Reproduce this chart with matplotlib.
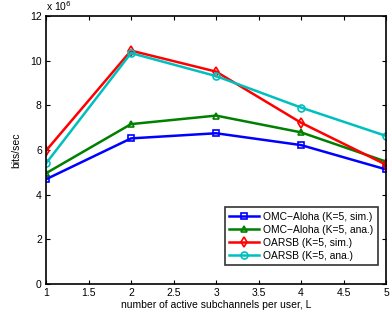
import matplotlib
matplotlib.use("Agg")
import matplotlib.pyplot as plt

plt.rcParams['font.family'] = ['Liberation Sans', 'DejaVu Sans']

L = [1, 2, 3, 4, 5]
omc_sim = [4.69, 6.52, 6.75, 6.22, 5.13]
omc_ana = [4.96, 7.16, 7.54, 6.79, 5.48]
oarsb_sim = [5.97, 10.45, 9.51, 7.22, 5.34]
oarsb_ana = [5.40, 10.34, 9.31, 7.90, 6.63]
labels = ['OMC\u2212Aloha (K=5, sim.)', 'OMC\u2212Aloha (K=5, ana.)',
          'OARSB (K=5, sim.)', 'OARSB (K=5, ana.)']
scale = 1e6

fig = plt.figure(figsize=(3.9, 3.2), dpi=100)
ax = fig.add_axes([0.118, 0.1125, 0.872, 0.8375])

series = [omc_sim, omc_ana, oarsb_sim, oarsb_ana]
colors = ['#0000ff', '#008000', '#ff0000', '#00bfbf']
markers = ['s', '^', 'd', 'o']
for s, c, m, lab in zip(series, colors, markers, labels):
    ax.plot(L, [v * scale for v in s], color=c, marker=m, markersize=5,
            markerfacecolor='none', markeredgecolor=c, markeredgewidth=1.2,
            linewidth=1.8, label=lab)

ax.set_xlim(1, 5)
ax.set_ylim(0, 12e6)
ax.set_xticks([1, 1.5, 2, 2.5, 3, 3.5, 4, 4.5, 5])
ax.set_xticklabels(['1', '1.5', '2', '2.5', '3', '3.5', '4', '4.5', '5'])
ax.set_yticks([0, 2e6, 4e6, 6e6, 8e6, 10e6, 12e6])
ax.set_yticklabels(['0', '2', '4', '6', '8', '10', '12'])
ax.tick_params(direction='in', top=True, right=True, labelsize=7.5, length=3, width=0.8, pad=3)
for sp in ax.spines.values():
    sp.set_linewidth(1.2)
ax.set_xlabel('number of active subchannels per user, L', fontsize=7.5, labelpad=1)
ax.set_ylabel('bits/sec', fontsize=7.5, labelpad=6)
ax.text(0.0, 1.012, 'x 10$^6$', transform=ax.transAxes, fontsize=7.5, va='bottom', ha='left')

leg = ax.legend(loc='lower right', fontsize=7.4, frameon=True, fancybox=False,
                edgecolor='black', borderpad=0.45, labelspacing=0.3, handlelength=2.9,
                handletextpad=0.4, bbox_to_anchor=(0.992, 0.05))
leg.get_frame().set_linewidth(1.2)

fig.savefig('out.png', dpi=100)
